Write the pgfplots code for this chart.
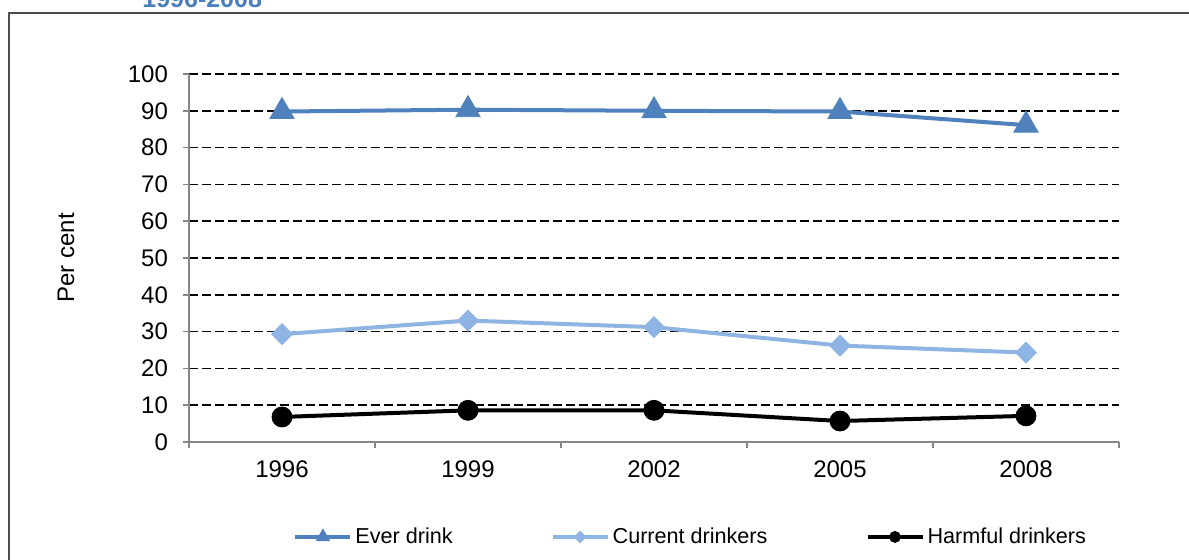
\documentclass[border=0pt]{standalone}
\usepackage{pgfplots}
\pgfplotsset{compat=1.18}
\usepackage{fontspec}
\setmainfont{Liberation Sans}

\definecolor{everblue}{HTML}{4F81BD}
\definecolor{curblue}{HTML}{8DB4E2}
\definecolor{axisgray}{HTML}{868686}
\definecolor{framegray}{HTML}{4D4D4D}
\definecolor{titleblue}{HTML}{4A7EBB}

\newcommand{\tickfont}{\fontsize{12pt}{14pt}\selectfont}
\newcommand{\legfont}{\fontsize{10.8pt}{13pt}\selectfont}

\begin{document}
\begin{tikzpicture}
% page area: 594.5pt x 280pt
\clip (0pt,0pt) rectangle (594.5pt,280pt);
\fill[white] (0pt,0pt) rectangle (594.5pt,280pt);

% chart frame and title
\draw[framegray, line width=0.8pt] (4.5pt,-10pt) -- (4.5pt,273.6pt) -- (610pt,273.6pt);
\node[anchor=base west, inner sep=0pt, text=titleblue,
      font=\fontsize{12.5pt}{14pt}\selectfont\bfseries] at (71pt,276.3pt) {1996-2008};

\begin{axis}[
  at={(94.5pt,59pt)}, anchor=south west,
  scale only axis, width=465pt, height=184pt,
  xmin=-0.5, xmax=4.5, ymin=0, ymax=100,
  axis lines*=left,
  axis line style={draw=axisgray, line width=0.75pt},
  xtick={0,1,2,3,4},
  xticklabels={1996,1999,2002,2005,2008},
  major x tick style={draw=none},
  minor xtick={-0.5,0.5,1.5,2.5,3.5,4.5},
  minor x tick style={draw=axisgray, line width=0.75pt},
  ytick={10,20,...,100},
  extra y ticks={0},
  extra y tick style={grid=none},
  ytick style={draw=axisgray, line width=0.75pt},
  tick align=outside,
  major tick length=3pt, minor tick length=3pt,
  ymajorgrids,
  major grid style={black, line width=0.8pt, dash pattern=on 4.5pt off 2pt},
  /pgf/number format/assume math mode=true,
  tick label style={font=\tickfont},
  yticklabel style={xshift=-4pt},
  xticklabel style={yshift=-3pt},
  ylabel={Per cent},
  ylabel style={font=\tickfont, at={(axis description cs:-0.1323,0.5)}, anchor=center},
  legend columns=3,
  legend style={draw=none, fill=none, font=\legfont,
    at={(rel axis cs:0.54,-0.258)}, anchor=center,
    /tikz/every even column/.append style={column sep=0pt},
    nodes={inner sep=1.5pt}},
  legend cell align=left,
  legend image code/.code={
    \draw[mark repeat=2, mark phase=2, #1, every mark/.append style={scale=0.55}]
      plot coordinates {(0pt,0pt) (13.75pt,0pt) (27.5pt,0pt)};
  },
]
\addplot[everblue, line width=2pt, mark=triangle*, mark size=7pt,
  mark options={fill=everblue, line width=0.4pt}]
  coordinates {(0,89.8) (1,90.3) (2,90.0) (3,89.8) (4,86.1)};
\addlegendentry{Ever drink\rule{47.5pt}{0pt}}
\addplot[curblue, line width=2pt, mark=square*, mark size=3.7pt,
  mark options={fill=curblue, rotate=45, line width=0.4pt}]
  coordinates {(0,29.3) (1,33.0) (2,31.2) (3,26.2) (4,24.3)};
\addlegendentry{Current drinkers\rule{47.5pt}{0pt}}
\addplot[black, line width=2pt, mark=*, mark size=5pt,
  mark options={fill=black, line width=0.4pt}]
  coordinates {(0,6.8) (1,8.6) (2,8.6) (3,5.7) (4,7.1)};
\addlegendentry{Harmful drinkers}
\end{axis}
\end{tikzpicture}
\end{document}
